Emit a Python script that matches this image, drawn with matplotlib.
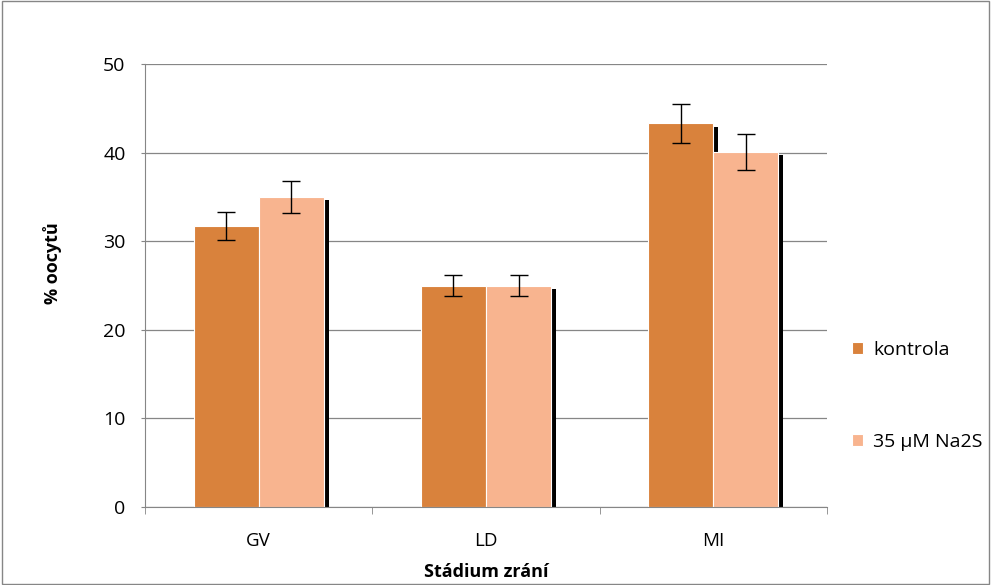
import matplotlib.pyplot as plt
import numpy as np
from matplotlib.transforms import ScaledTranslation

plt.rcParams['font.family'] = ['Open Sans', 'DejaVu Sans']

# data
categories = ['GV', 'LD', 'MI']
series_names = ['kontrola', '35 μM Na2S']
kontrola = [31.7, 25.0, 43.3]
kontrola_err = [1.6, 1.2, 2.2]
na2s = [35.0, 25.0, 40.1]
na2s_err = [1.8, 1.2, 2.05]

colors = ['#D9823C', '#F8B48F']

fig = plt.figure(figsize=(9.91, 5.85), dpi=100)
ax = fig.add_axes([145/991, 1-507/585, (827-145)/991, (507-64)/585])

x = np.arange(len(categories))
w = 0.286

# shadows, shifted right and down a few pixels
shift = ScaledTranslation(5/100, -3.3/100, fig.dpi_scale_trans)
for off, vals in [(-w/2, kontrola), (w/2, na2s)]:
    sh = ax.bar(x + off, vals, w, color='black', zorder=1)
    for p in sh:
        p.set_transform(ax.transData + shift)

bars = []
for off, vals, errs, c, name in [(-w/2, kontrola, kontrola_err, colors[0], series_names[0]),
                                 (w/2, na2s, na2s_err, colors[1], series_names[1])]:
    b = ax.bar(x + off, vals, w, color=c, edgecolor='white', linewidth=0.8,
               zorder=2, label=name)
    ax.errorbar(x + off, vals, yerr=errs, fmt='none', ecolor='black',
                elinewidth=1, capsize=6.5, capthick=1, zorder=3)
    bars.append(b)

ax.set_xlim(-0.5, 2.5)
ax.set_ylim(0, 50)
ax.set_yticks(range(0, 51, 10))
ax.set_xticks(x)
ax.set_xticklabels(categories)
ax.set_xticks([-0.5, 0.5, 1.5, 2.5], minor=True)
ax.tick_params(axis='x', which='major', length=0, pad=18, labelsize=13.5)
ax.tick_params(axis='x', which='minor', length=5, color='#868686')
ax.tick_params(axis='y', length=3, color='#868686', labelsize=14, pad=11)
ax.yaxis.grid(True, color='#868686', linewidth=0.9)
ax.set_axisbelow(True)
for s in ['top', 'right']:
    ax.spines[s].set_visible(False)
for s in ['left', 'bottom']:
    ax.spines[s].set_color('#868686')

ax.set_ylabel('% oocytů', fontsize=13, fontweight='bold')
ax.yaxis.set_label_coords((62-145)/682, (507-263)/443)
ax.set_xlabel('Stádium zrání', fontsize=13, fontweight='bold')
ax.xaxis.set_label_coords(0.5, (507-563)/443)

fig.legend(handles=bars, labels=series_names, loc='center left',
           bbox_to_anchor=(834/991, 1-396/585), frameon=False, fontsize=14,
           handlelength=0.6, handleheight=0.6, handletextpad=0.5,
           labelspacing=3.8)

# outer border
fig.patches.append(plt.Rectangle((0.002, 0.002), 0.996, 0.996, transform=fig.transFigure,
                                 fill=False, edgecolor='#868686', linewidth=1))

fig.savefig('out.png', dpi=100)
